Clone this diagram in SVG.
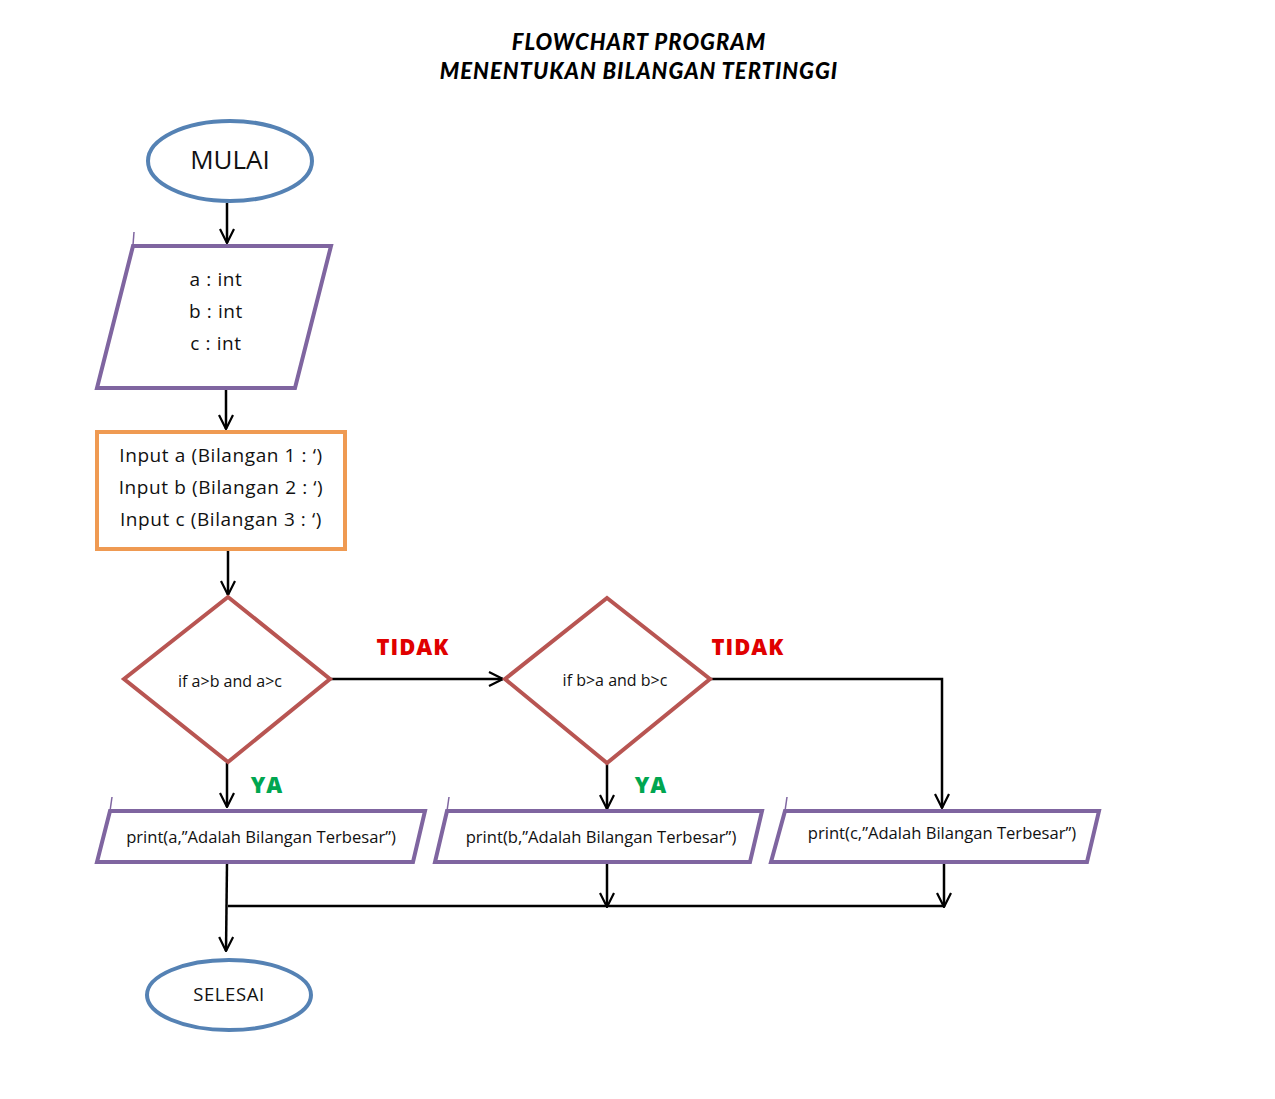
<svg xmlns="http://www.w3.org/2000/svg" width="1275" height="1099" viewBox="0 0 1275 1099">
  <defs>
    <marker id="arrow" viewBox="0 0 16 16" refX="15" refY="8" markerWidth="16" markerHeight="16" markerUnits="userSpaceOnUse" orient="auto">
      <path d="M1,1 L15,8 L1,15" fill="none" stroke="#000" stroke-width="2.2"/>
    </marker>
  </defs>
  <style>
    .term { fill: #fff; stroke: #5582b4; stroke-width: 4; }
    .io { fill: #fff; stroke: #7f65a0; stroke-width: 4; stroke-linejoin: miter; }
    .proc { fill: #fff; stroke: #ef9a52; stroke-width: 4; }
    .dec { fill: #fff; stroke: #b85552; stroke-width: 4; }
    .conn { fill: none; stroke: #000; stroke-width: 2.5; }
    .tick { fill: none; stroke: #7f65a0; stroke-width: 1.5; }
    .lbl { font-family: "Open Sans", "Liberation Sans", sans-serif; fill: #111; text-anchor: middle; }
    .sp { letter-spacing: 0.6px; }
    .title { font-family: Lato, "Liberation Sans", sans-serif; font-weight: 900; font-style: italic; font-size: 22px; letter-spacing: 1px; fill: #000; text-anchor: middle; }
    .no { font-family: "Open Sans", "Liberation Sans", sans-serif; font-weight: 800; font-size: 22px; letter-spacing: 1px; fill: #e00000; text-anchor: middle; }
    .yes { font-family: "Open Sans", "Liberation Sans", sans-serif; font-weight: 800; font-size: 22px; letter-spacing: 1px; fill: #00a650; text-anchor: middle; }
  </style>
  <rect width="1275" height="1099" fill="#fff"/>

  <text class="title" x="639" y="50">FLOWCHART PROGRAM</text>
  <text class="title" x="639" y="79">MENENTUKAN BILANGAN TERTINGGI</text>

  <g id="connectors">
    <line class="conn" x1="227" y1="203" x2="227" y2="243" marker-end="url(#arrow)"/>
    <line class="conn" x1="226" y1="390" x2="226" y2="429" marker-end="url(#arrow)"/>
    <line class="conn" x1="228" y1="551" x2="228" y2="595" marker-end="url(#arrow)"/>
    <line class="conn" x1="330" y1="679" x2="503" y2="679" marker-end="url(#arrow)"/>
    <polyline class="conn" points="710,679 942,679 942,808" marker-end="url(#arrow)"/>
    <line class="conn" x1="227" y1="763" x2="227" y2="807" marker-end="url(#arrow)"/>
    <line class="conn" x1="607" y1="764" x2="607" y2="809" marker-end="url(#arrow)"/>
    <line class="conn" x1="227" y1="863" x2="226" y2="951" marker-end="url(#arrow)"/>
    <line class="conn" x1="228" y1="906" x2="944" y2="906"/>
    <line class="conn" x1="607" y1="863" x2="607" y2="907" marker-end="url(#arrow)"/>
    <line class="conn" x1="944" y1="863" x2="944" y2="907" marker-end="url(#arrow)"/>
  </g>

  <g id="start">
    <ellipse class="term" cx="230" cy="161" rx="82" ry="40"/>
    <text class="lbl" x="230" y="169" font-size="26">MULAI</text>
  </g>

  <g id="declare">
    <line class="tick" x1="134" y1="232" x2="133" y2="245"/>
    <polygon class="io" points="133,246 331,246 295,388 97,388"/>
    <text class="lbl sp" x="216" y="286" font-size="19">a : int</text>
    <text class="lbl sp" x="216" y="318" font-size="19">b : int</text>
    <text class="lbl sp" x="216" y="350" font-size="19">c : int</text>
  </g>

  <g id="input">
    <rect class="proc" x="97" y="432" width="248" height="117"/>
    <text class="lbl sp" x="221" y="462" font-size="19">Input a (Bilangan 1 : ‘)</text>
    <text class="lbl sp" x="221" y="494" font-size="19">Input b (Bilangan 2 : ‘)</text>
    <text class="lbl sp" x="221" y="526" font-size="19">Input c (Bilangan 3 : ‘)</text>
  </g>

  <g id="check-a">
    <polygon class="dec" points="228,597 330,679 228,762 124,679"/>
    <text class="lbl" x="230" y="687" font-size="16">if a&gt;b and a&gt;c</text>
  </g>

  <g id="check-b">
    <polygon class="dec" points="607,598 710,679 607,763 505,679"/>
    <text class="lbl" x="615" y="686" font-size="16">if b&gt;a and b&gt;c</text>
  </g>

  <g id="labels">
    <text class="no" x="413" y="655">TIDAK</text>
    <text class="no" x="748" y="655">TIDAK</text>
    <text class="yes" x="267" y="793">YA</text>
    <text class="yes" x="651" y="793">YA</text>
  </g>

  <g id="print-a">
    <line class="tick" x1="112" y1="797" x2="110" y2="811"/>
    <polygon class="io" points="110,811 425,811 413,862 97,862"/>
    <text class="lbl" x="261" y="843" font-size="16.6">print(a,”Adalah Bilangan Terbesar”)</text>
  </g>

  <g id="print-b">
    <line class="tick" x1="449" y1="797" x2="447" y2="811"/>
    <polygon class="io" points="447,811 762,811 750,862 435,862"/>
    <text class="lbl" x="601" y="843" font-size="16.6">print(b,”Adalah Bilangan Terbesar”)</text>
  </g>

  <g id="print-c">
    <line class="tick" x1="787" y1="797" x2="785" y2="811"/>
    <polygon class="io" points="785,811 1099,811 1087,862 771,862"/>
    <text class="lbl" x="942" y="839" font-size="16.6">print(c,”Adalah Bilangan Terbesar”)</text>
  </g>

  <g id="end">
    <ellipse class="term" cx="229" cy="995" rx="82" ry="35"/>
    <text class="lbl sp" x="229" y="1001" font-size="18.5">SELESAI</text>
  </g>
</svg>
